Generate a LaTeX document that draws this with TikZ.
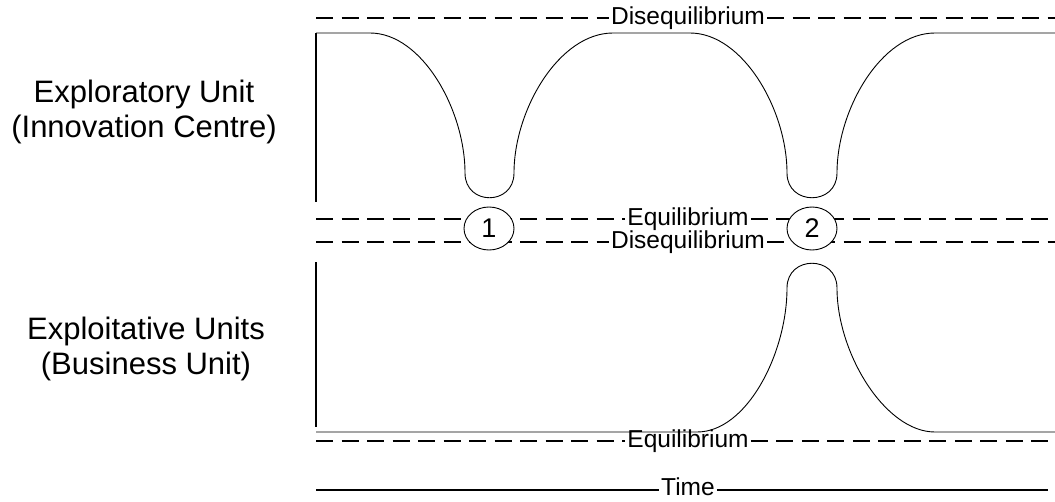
\documentclass[tikz,border=0pt]{standalone}
\usepackage{fontspec}
\setmainfont{Liberation Sans}
\usetikzlibrary{shapes.geometric}

\tikzset{
  level/.style={line width=1.8pt, dash pattern=on 17pt off 8.5pt},
  curve/.style={line width=0.9pt},
  flank/.style={line width=2pt},
  lbl/.style={inner xsep=2pt, inner ysep=0pt, font=\fontsize{24.5}{26}\selectfont},
  unit/.style={align=center, font=\fontsize{31}{35}\selectfont},
  marker/.style={draw, ellipse, fill=white, line width=0.9pt, inner sep=0pt,
    minimum width=50pt, minimum height=43pt, font=\fontsize{27}{29}\selectfont}
}

\begin{document}
\begin{tikzpicture}[x=1pt,y=-1pt]
\useasboundingbox (0,0) rectangle (1055,501);

% left captions
\node[unit] (explor) at (144,112) {Exploratory Unit\\(Innovation Centre)};
\node[unit] (exploit) at (146,349) {Exploitative Units\\(Business Unit)};

% level labels
\node[lbl] (topdis) at (688,18) {Disequilibrium};
\node[lbl] (midequ) at (688,219) {Equilibrium};
\node[lbl] (middis) at (688,242) {Disequilibrium};
\node[lbl] (botequ) at (688,441) {Equilibrium};
\node[lbl] (time) at (688,487) {Time};

\coordinate (topl) at (316,18);   \coordinate (topr) at (1055,18);
\coordinate (mequl) at (316,219); \coordinate (mequr) at (1055,219);
\coordinate (mdisl) at (316,242); \coordinate (mdisr) at (1055,242);
\coordinate (bequl) at (316,441); \coordinate (bequr) at (1055,441);
\coordinate (timel) at (316,490); \coordinate (timer) at (1048,490);

\draw[level] (topl) -- (topdis.west);  \draw[level] (topdis.east) -- (topr);
\draw[level] (mequl) -- (midequ.west); \draw[level] (midequ.east) -- (mequr);
\draw[level] (mdisl) -- (middis.west); \draw[level] (middis.east) -- (mdisr);
\draw[level] (bequl) -- (botequ.west); \draw[level] (botequ.east) -- (bequr);
\draw[flank] (timel) -- (timel -| time.west);
\draw[flank] (timer -| time.east) -- (timer);

% unit axes
\draw[flank] (316,33) -- (316,202);
\draw[flank] (316,262) -- (316,427);

% exploratory unit
\draw[curve] (316,33) -- (370,33)
  .. controls (422,33) and (465,110) .. (465,173)
  .. controls (465,206) and (514,206) .. (514,173)
  .. controls (514,110) and (559,33) .. (613,33)
  -- (690,33)
  .. controls (743,33) and (787,110) .. (787,173)
  .. controls (787,206) and (837,206) .. (837,173)
  .. controls (837,110) and (881,33) .. (935,33)
  -- (1055,33);

% exploitative units
\draw[curve] (316,432) -- (697,432)
  .. controls (747,432) and (787,353) .. (787,288)
  .. controls (787,255) and (837,255) .. (837,288)
  .. controls (837,353) and (885,432) .. (935,432)
  -- (1055,432);

% transition points
\node[marker] (one) at (489,228.5) {1};
\node[marker] (two) at (812,228.5) {2};
\end{tikzpicture}
\end{document}
